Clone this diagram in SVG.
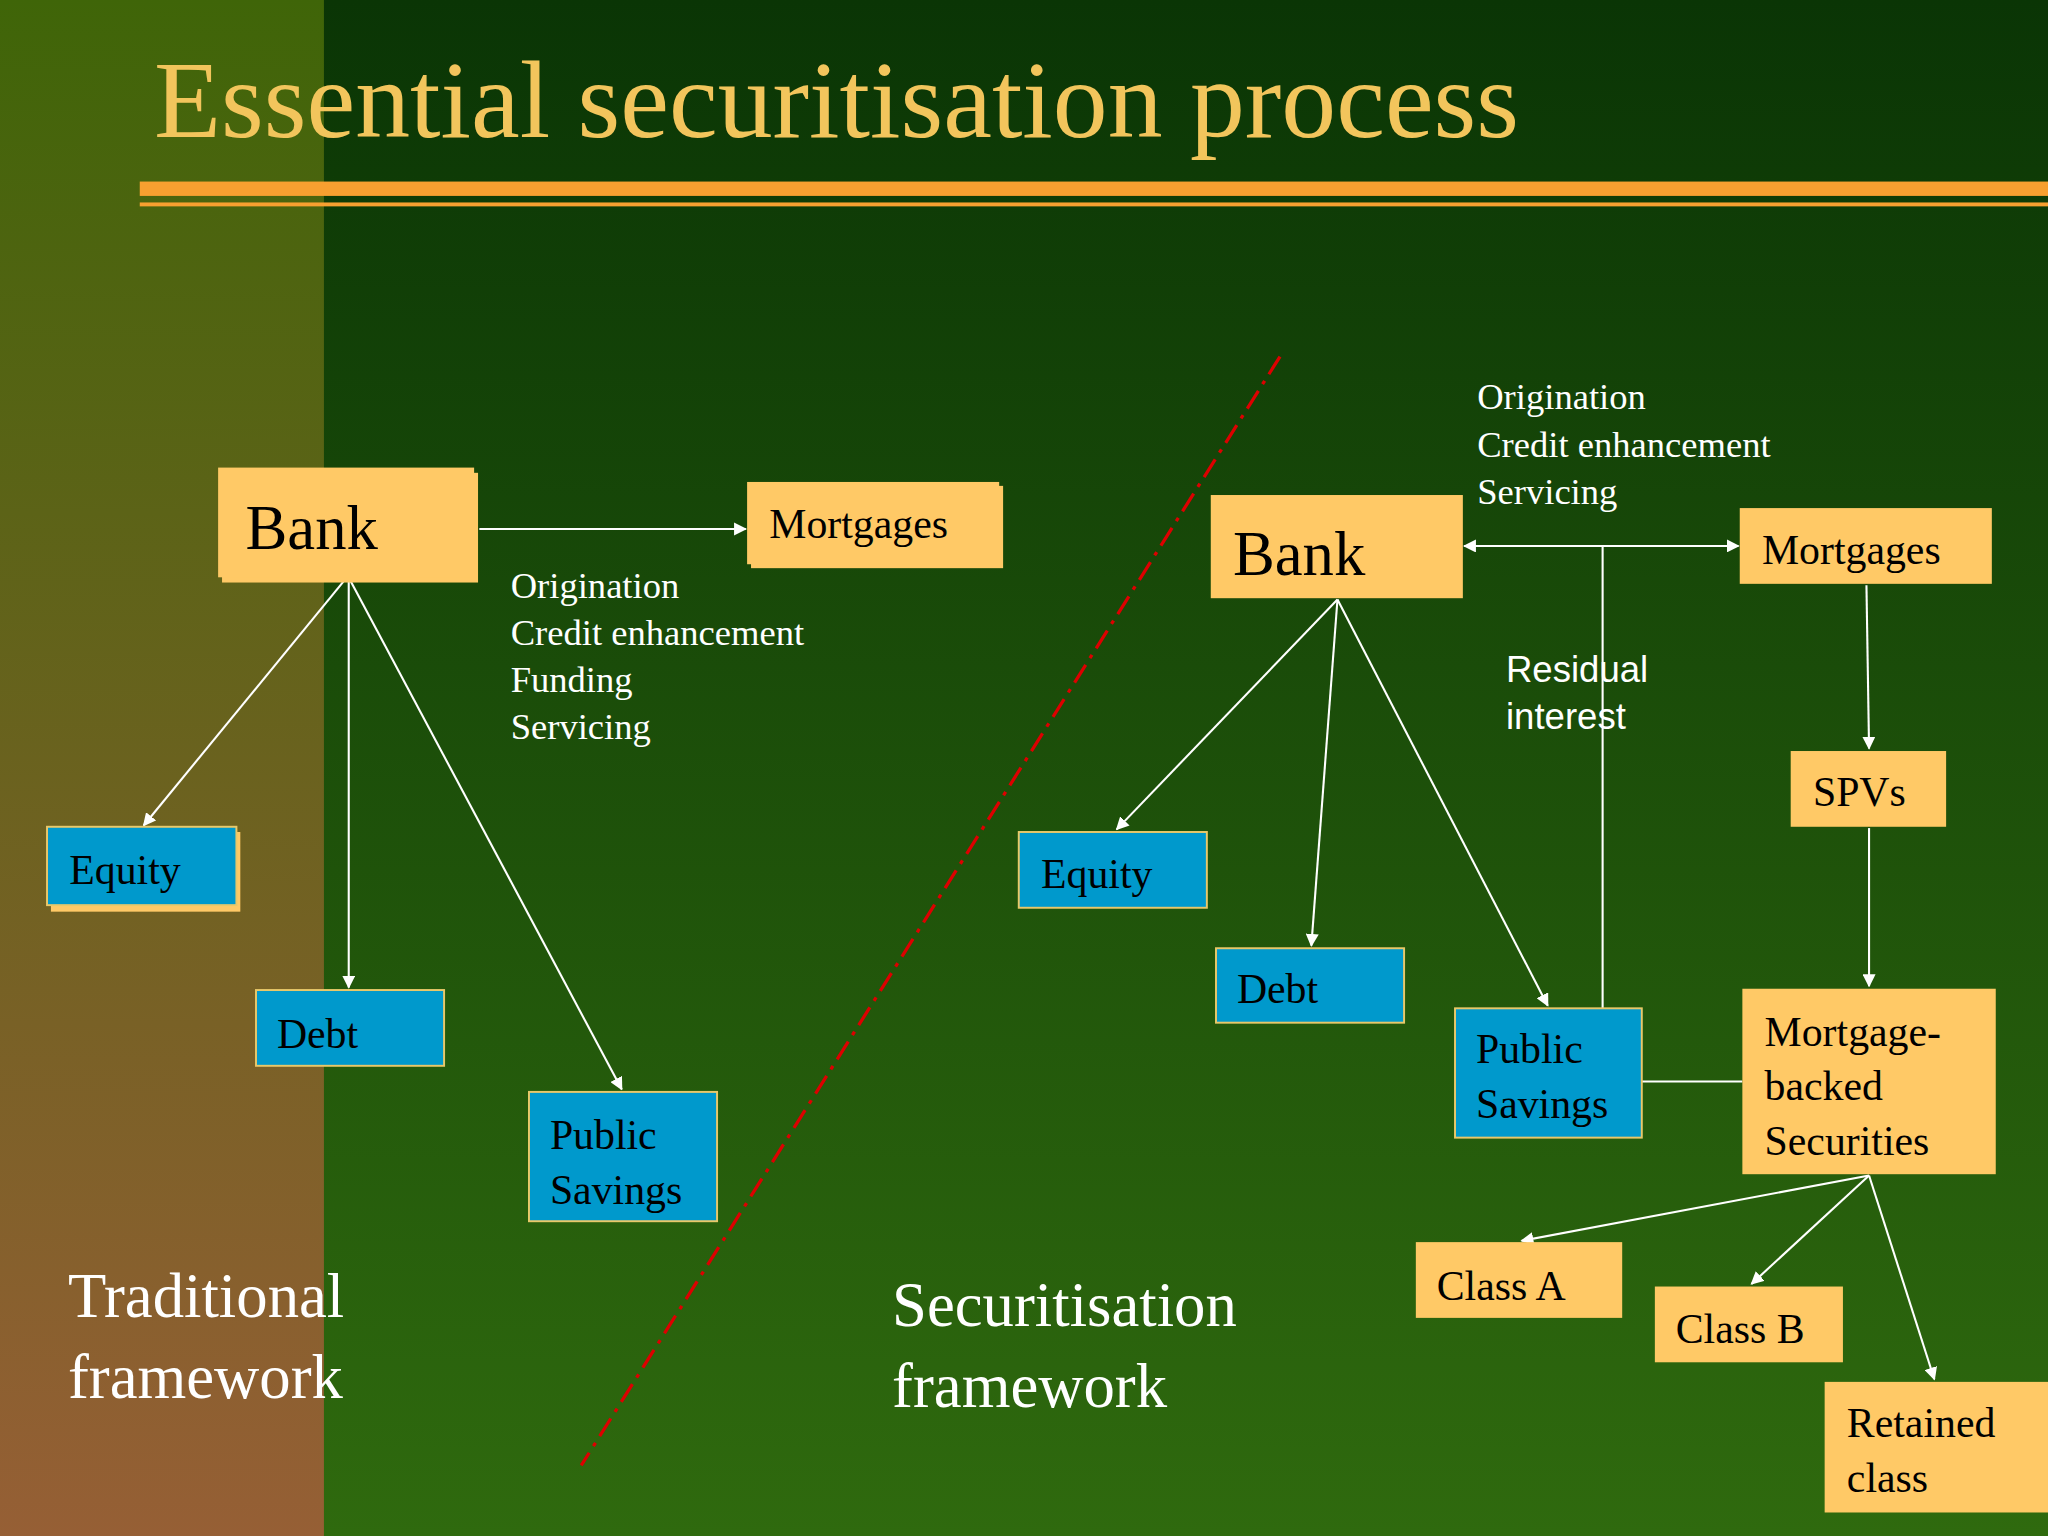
<svg xmlns="http://www.w3.org/2000/svg" width="2048" height="1536" viewBox="0 0 2048 1536">
<defs>
<linearGradient id="lg" x1="0" y1="0" x2="0" y2="1"><stop offset="0" stop-color="#3f6508"/><stop offset="1" stop-color="#965f35"/></linearGradient>
<linearGradient id="rg" x1="0" y1="0" x2="0" y2="1"><stop offset="0" stop-color="#0a3505"/><stop offset="1" stop-color="#2f6a0e"/></linearGradient>
<marker id="ah" markerWidth="10" markerHeight="10" refX="9" refY="5" orient="auto-start-reverse" markerUnits="userSpaceOnUse"><path d="M0,0 L10,5 L0,10 z" fill="#fff"/></marker>
<style>
.y{fill:#ffc966}
.b{fill:#0099cc;stroke:#e8c86a;stroke-width:1.5}
.t{font-family:"Liberation Serif",serif;fill:#000}
.w{font-family:"Liberation Serif",serif;fill:#fff}
.c line,.c path{stroke:#fff;stroke-width:1.6;fill:none}
</style>
</defs>
<g transform="scale(1.30612)">
<rect width="1568" height="1176" fill="url(#rg)"/>
<rect width="248" height="1176" fill="url(#lg)"/>
<text x="118" y="105" font-family="Liberation Serif,serif" font-size="84" fill="#f2c55c">Essential securitisation process</text>
<rect x="107" y="139" width="1461" height="11" fill="#f7a030"/>
<rect x="107" y="155" width="1461" height="3" fill="#f7a030"/>
<line x1="980" y1="273" x2="445" y2="1122" stroke="#dd0000" stroke-width="2.5" stroke-dasharray="16,6,3,6"/>
<g class="c">
<line x1="367" y1="405" x2="571" y2="405" marker-end="url(#ah)"/>
<line x1="264" y1="444" x2="110" y2="632" marker-end="url(#ah)"/>
<line x1="267" y1="444" x2="267" y2="756" marker-end="url(#ah)"/>
<line x1="268" y1="444" x2="476" y2="834" marker-end="url(#ah)"/>
<line x1="1121" y1="418" x2="1331" y2="418" marker-start="url(#ah)" marker-end="url(#ah)"/>
<path d="M1227,418 V828 H1334"/>
<line x1="1024" y1="459" x2="855" y2="635" marker-end="url(#ah)"/>
<line x1="1024" y1="459" x2="1004" y2="724" marker-end="url(#ah)"/>
<line x1="1024" y1="459" x2="1185" y2="770" marker-end="url(#ah)"/>
<line x1="1429" y1="448" x2="1431" y2="573" marker-end="url(#ah)"/>
<line x1="1431" y1="634" x2="1431" y2="755" marker-end="url(#ah)"/>
<line x1="1431" y1="900" x2="1165" y2="950" marker-end="url(#ah)"/>
<line x1="1431" y1="900" x2="1341" y2="983" marker-end="url(#ah)"/>
<line x1="1431" y1="900" x2="1481" y2="1056" marker-end="url(#ah)"/>
</g>
<g id="bankL"><rect x="170" y="362" width="196" height="84" class="y"/><rect x="167" y="358" width="196" height="84" class="y"/><text x="188" y="420" font-size="48" class="t">Bank</text></g>
<g id="mortL"><rect x="575" y="372" width="193" height="63" class="y"/><rect x="572" y="369" width="193" height="63" class="y"/><text x="589" y="412" font-size="32" class="t">Mortgages</text></g>
<g id="equityL"><rect x="39" y="637" width="145" height="61" class="y"/><rect x="36" y="633" width="145" height="60" class="b"/><text x="53" y="677" font-size="32" class="t">Equity</text></g>
<g id="debtL"><rect x="196" y="758" width="144" height="58" class="b"/><text x="212" y="802" font-size="32" class="t">Debt</text></g>
<g id="psL"><rect x="405" y="836" width="144" height="99" class="b"/><text x="421" y="880" font-size="32" class="t">Public</text><text x="421" y="922" font-size="32" class="t">Savings</text></g>
<g id="labelsL" font-size="28" class="w"><text x="391" y="458" class="w">Origination</text><text x="391" y="494" class="w">Credit enhancement</text><text x="391" y="530" class="w">Funding</text><text x="391" y="566" class="w">Servicing</text></g>
<text x="52" y="1008" font-size="48" class="w">Traditional</text><text x="52" y="1070" font-size="48" class="w">framework</text>
<text x="683" y="1015" font-size="48" class="w">Securitisation</text><text x="683" y="1077" font-size="48" class="w">framework</text>
<g id="bankR"><rect x="927" y="379" width="193" height="79" class="y"/><text x="944" y="440" font-size="48" class="t">Bank</text></g>
<g id="mortR"><rect x="1332" y="389" width="193" height="58" class="y"/><text x="1349" y="432" font-size="32" class="t">Mortgages</text></g>
<g id="labelsR"><text x="1131" y="313" font-size="28" class="w">Origination</text><text x="1131" y="350" font-size="28" class="w">Credit enhancement</text><text x="1131" y="386" font-size="28" class="w">Servicing</text></g>
<g id="residual" font-family="Liberation Sans,sans-serif" font-size="28" fill="#fff"><text x="1153" y="522">Residual</text><text x="1153" y="558">interest</text></g>
<g id="equityR"><rect x="780" y="637" width="144" height="58" class="b"/><text x="797" y="680" font-size="32" class="t">Equity</text></g>
<g id="debtR"><rect x="931" y="726" width="144" height="57" class="b"/><text x="947" y="768" font-size="32" class="t">Debt</text></g>
<g id="psR"><rect x="1114" y="772" width="143" height="99" class="b"/><text x="1130" y="814" font-size="32" class="t">Public</text><text x="1130" y="856" font-size="32" class="t">Savings</text></g>
<g id="spvs"><rect x="1371" y="575" width="119" height="58" class="y"/><text x="1388" y="617" font-size="32" class="t">SPVs</text></g>
<g id="mbs"><rect x="1334" y="757" width="194" height="142" class="y"/><text x="1351" y="801" font-size="32" class="t">Mortgage-</text><text x="1351" y="842" font-size="32" class="t">backed</text><text x="1351" y="884" font-size="32" class="t">Securities</text></g>
<g id="classA"><rect x="1084" y="951" width="158" height="58" class="y"/><text x="1100" y="995" font-size="32" class="t">Class A</text></g>
<g id="classB"><rect x="1267" y="985" width="144" height="58" class="y"/><text x="1283" y="1028" font-size="32" class="t">Class B</text></g>
<g id="retained"><rect x="1397" y="1058" width="171" height="100" class="y"/><text x="1414" y="1100" font-size="32" class="t">Retained</text><text x="1414" y="1142" font-size="32" class="t">class</text></g>
</g>
</svg>
